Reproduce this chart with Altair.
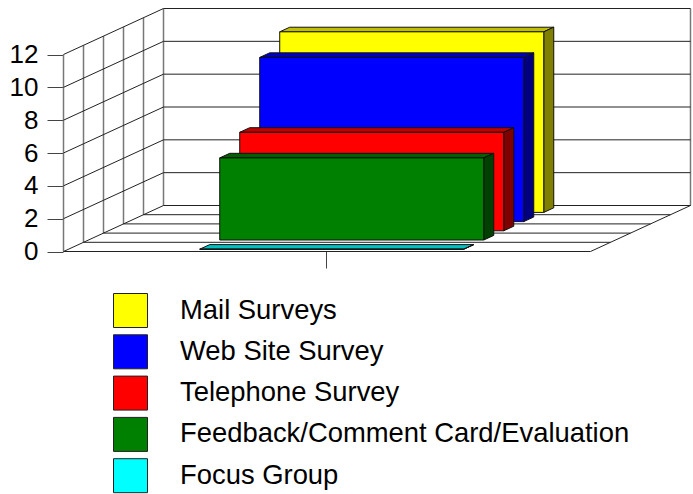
import altair as alt
import pandas as pd

# Survey methods, drawn back to front
series = ["Mail Surveys", "Web Site Survey", "Telephone Survey",
          "Feedback/Comment Card/Evaluation", "Focus Group"]
values = [11, 10, 6, 5, 0]
front_colors = ["#ffff00", "#0000ff", "#ff0000", "#008000", "#00ffff"]
side_colors = ["#808000", "#000080", "#800000", "#004000", "#008080"]
top_colors = ["#c0c000", "#0000c0", "#c00000", "#006000", "#00c0c0"]
y_ticks = [0, 2, 4, 6, 8, 10, 12]

W, H = 693, 494
# One depth slot expressed in axis units (x: category widths, y: survey counts)
SLOT_X = 20 / 527
SLOT_Y = 9.2 / (197 / 12)
SLOTS = len(series)
U0, U1 = 0.249, 0.75  # bar extent inside the category

# Scales keep the axis units while placing the floor corner inside the canvas
x_scale = alt.Scale(domain=[-63.5 / 527, (W - 63.5) / 527], range=[0, W], nice=False, zero=False)
y_scale = alt.Scale(domain=[(251.5 - H) / (197 / 12), 251.5 / (197 / 12)], range=[H, 0], nice=False, zero=False)


def polylines(paths):
    rows = []
    for gid, points in enumerate(paths):
        for i, (u, v) in enumerate(points):
            rows.append({"g": gid, "i": i, "u": u, "v": v})
    return pd.DataFrame(rows)


bx, by = SLOT_X * SLOTS, SLOT_Y * SLOTS
# Horizontal wall and floor lines, plus the slanted floor edges
wall_lines = [[(0, t), (bx, t + by), (1 + bx, t + by)] for t in y_ticks]
wall_lines += [[(k * SLOT_X, k * SLOT_Y), (1 + k * SLOT_X, k * SLOT_Y)] for k in range(SLOTS + 1)]
wall_lines.append([(1, 0), (1 + bx, by)])
# Uprights on the side wall and at the far right of the back wall
uprights = [[(k * SLOT_X, k * SLOT_Y), (k * SLOT_X, 12 + k * SLOT_Y)] for k in range(SLOTS + 1)]
uprights.append([(1 + bx, by), (1 + bx, 12 + by)])

x_enc = alt.X("u:Q", scale=x_scale, title=None,
              axis=alt.Axis(values=[0.498], labels=False, domain=False, grid=False,
                            ticks=True, tickSize=17, tickColor="#444444", offset=-(H - 251)))
y_enc = alt.Y("v:Q", scale=y_scale, title=None,
              axis=alt.Axis(values=y_ticks, domain=False, grid=False, ticks=True, tickSize=16,
                            tickColor="#444444", labelFont="Liberation Sans", labelFontSize=26,
                            labelColor="black", labelPadding=9, offset=-63))

layers = [
    alt.Chart(polylines(uprights)).mark_line(color="#777777", strokeWidth=1.5).encode(
        x=x_enc, y=y_enc, detail="g:N", order="i:Q"
    ),
    alt.Chart(polylines(wall_lines)).mark_line(color="#222222", strokeWidth=1).encode(
        x=x_enc, y=y_enc, detail="g:N", order="i:Q"
    ),
]

legend = alt.Legend(orient="none", legendX=113, legendY=293, title=None, symbolType="square",
                    symbolSize=1156, symbolStrokeWidth=1, symbolStrokeColor="#222222",
                    labelFont="Liberation Sans", labelFontSize=27.4, labelColor="black",
                    labelOffset=32, rowPadding=2.3, labelLimit=520)
color_enc = alt.Color("series:N", legend=legend,
                      scale=alt.Scale(domain=series, range=front_colors))

for k, (name, val, side, top) in enumerate(zip(series, values, side_colors, top_colors)):
    d = SLOTS - 1 - k + 0.25  # nearest series sits in the first depth slot
    ux, vy = d * SLOT_X, d * SLOT_Y
    hx, hy = 0.5 * SLOT_X, 0.5 * SLOT_Y

    top_df = pd.DataFrame({
        "u": [U0 + ux, U0 + ux + hx], "u2": [U1 + ux, U1 + ux + hx],
        "v": [vy + val, vy + val + hy],
    })
    side_df = pd.DataFrame({
        "u": [U1 + ux, U1 + ux + hx],
        "v": [vy, vy + hy], "v2": [vy + val, vy + val + hy],
    })
    front_df = pd.DataFrame({
        "u": [U0 + ux], "u2": [U1 + ux], "v": [vy], "v2": [vy + val], "series": [name],
    })

    layers.append(alt.Chart(top_df).mark_area(
        orient="horizontal", color=top, stroke="#111111", strokeWidth=1
    ).encode(x=x_enc, x2="u2:Q", y=y_enc))
    layers.append(alt.Chart(side_df).mark_area(
        orient="vertical", color=side, stroke="#111111", strokeWidth=1
    ).encode(x=x_enc, y=y_enc, y2="v2:Q"))
    layers.append(alt.Chart(front_df).mark_rect(stroke="#111111", strokeWidth=1).encode(
        x=x_enc, x2="u2:Q", y=y_enc, y2="v2:Q", color=color_enc
    ))

chart = alt.layer(*layers).properties(
    width=W, height=H, padding=0, background="white",
    autosize=alt.AutoSizeParams(type="none"),
).configure_view(stroke=None)

chart.save("out.html", embed_options={"renderer": "svg", "actions": False})
